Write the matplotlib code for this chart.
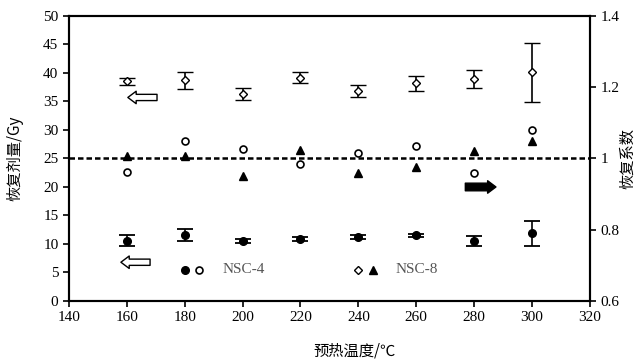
import matplotlib.pyplot as plt
import numpy as np

plt.rcParams['font.family'] = ['Liberation Serif', 'Noto Sans CJK SC']
plt.rcParams['font.serif'] = ['Liberation Serif']

temps = [160, 180, 200, 220, 240, 260, 280, 300]

# NSC-8 recovery dose (Gy) and error
dose8 = [38.5, 38.7, 36.3, 39.2, 36.8, 38.2, 39.0, 40.1]
err8 = [0.6, 1.5, 1.1, 1.0, 1.0, 1.3, 1.6, 5.2]
# NSC-4 recovery dose (Gy) and error
dose4 = [10.6, 11.6, 10.5, 10.9, 11.2, 11.5, 10.5, 11.9]
err4 = [1.0, 1.1, 0.4, 0.3, 0.4, 0.3, 0.9, 2.2]
# recovery coefficients
coef4 = [0.963, 1.05, 1.027, 0.984, 1.016, 1.036, 0.959, 1.08]
coef8 = [1.007, 1.007, 0.95, 1.024, 0.958, 0.977, 1.021, 1.048]

xticks = list(range(140, 321, 20))
yticks = list(range(0, 51, 5))
y2ticks = [0.6, 0.8, 1.0, 1.2, 1.4]
y2labels = ['0.6', '0.8', '1', '1.2', '1.4']

fig = plt.figure(figsize=(6.44, 3.62), dpi=100)
ax = fig.add_axes([0.107, 0.1685, 0.809, 0.7875])
ax2 = ax.twinx()

ax.errorbar(temps, dose8, yerr=err8, fmt='D', ms=4, mfc='white', mec='black',
            mew=1.0, ecolor='black', elinewidth=1.2, capsize=5.5, capthick=1.3)
ax.errorbar(temps, dose4, yerr=err4, fmt='o', ms=5.5, mfc='black', mec='black',
            ecolor='black', elinewidth=1.2, capsize=5.5, capthick=1.3)

ax2.plot(temps, coef4, 'o', ms=5, mfc='white', mec='black', mew=1.2)
ax2.plot(temps, coef8, '^', ms=6, color='black')
ax2.axhline(1.0, color='black', ls='--', lw=1.8, dashes=(2.2, 1.2))

# arrows
style = 'simple,head_length=0.6,head_width=0.9,tail_width=0.45'
ax.annotate('', xy=(159.4, 35.7), xytext=(171.4, 35.7),
            arrowprops=dict(arrowstyle=style, fc='white', ec='black', lw=1.0))
ax.annotate('', xy=(157, 6.8), xytext=(169, 6.8),
            arrowprops=dict(arrowstyle=style, fc='white', ec='black', lw=1.0))
ax.annotate('', xy=(288.5, 20.0), xytext=(276, 20.0),
            arrowprops=dict(arrowstyle='simple,head_length=0.6,head_width=0.9,tail_width=0.55',
                            fc='black', ec='black', lw=1.0))

# legend
ax.plot([180], [5.5], 'o', ms=5.5, color='black')
ax.plot([185], [5.5], 'o', ms=5, mfc='white', mec='black', mew=1.2)
ax.text(193, 5.5, 'NSC-4', va='center', ha='left', fontsize=11, color='#555555',
        family='Liberation Serif')
ax.plot([240], [5.5], 'D', ms=4, mfc='white', mec='black', mew=1.0)
ax.plot([245], [5.5], '^', ms=6, color='black')
ax.text(253, 5.5, 'NSC-8', va='center', ha='left', fontsize=11, color='#555555',
        family='Liberation Serif')

ax.set_xlim(140, 320)
ax.set_ylim(0, 50)
ax2.set_ylim(0.6, 1.4)
ax.set_xticks(xticks)
ax.set_xticklabels([str(t) for t in xticks], family='Liberation Serif', fontsize=11)
ax.set_yticks(yticks)
ax.set_yticklabels([str(t) for t in yticks], family='Liberation Serif', fontsize=11)
ax2.set_yticks(y2ticks)
ax2.set_yticklabels(y2labels, family='Liberation Serif', fontsize=11)

for a in (ax, ax2):
    a.tick_params(direction='out', length=4, width=1.2, colors='black')
    for s in a.spines.values():
        s.set_linewidth(1.5)

ax.set_xlabel('预热温度/℃', fontsize=11, family=['Noto Sans CJK SC'])
ax.set_ylabel('恢复剂量/Gy', fontsize=11, family=['Noto Sans CJK SC'])
ax2.set_ylabel('恢复系数', fontsize=11, family=['Noto Sans CJK SC'])
ax.xaxis.set_label_coords(0.549, -0.145)
ax.yaxis.set_label_coords(-0.088, 0.5)
ax2.yaxis.set_label_coords(1.056, 0.5)

fig.savefig('out.png', dpi=100)
